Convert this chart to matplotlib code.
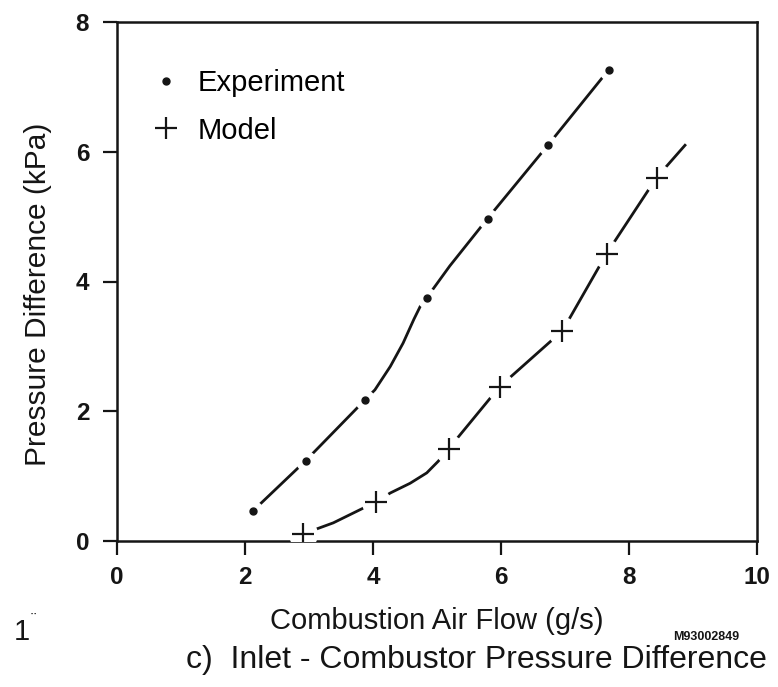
import matplotlib
matplotlib.use("Agg")
import matplotlib.pyplot as plt
from matplotlib.lines import Line2D

plt.rcParams['font.family'] = ['Liberation Sans', 'DejaVu Sans']

# measured points (g/s, kPa)
exp_x = [2.12, 2.95, 3.88, 4.84, 5.79, 6.74, 7.68]
exp_y = [0.46, 1.24, 2.18, 3.75, 4.97, 6.11, 7.26]
mod_x = [2.91, 4.04, 5.18, 5.98, 6.96, 7.65, 8.43]
mod_y = [0.11, 0.60, 1.42, 2.38, 3.24, 4.43, 5.60]

# hand drawn curves through the points, vertices
exp_curve_x = [2.12, 2.95, 3.88, 4.03, 4.27, 4.47, 4.64, 4.74, 4.84, 5.20, 5.79, 6.74, 7.68]
exp_curve_y = [0.46, 1.24, 2.18, 2.33, 2.69, 3.05, 3.42, 3.62, 3.75, 4.24, 4.97, 6.11, 7.26]
mod_curve_x = [2.91, 3.38, 4.04, 4.27, 4.58, 4.84, 5.02, 5.18, 5.98, 6.96, 7.65, 8.43, 8.875]
mod_curve_y = [0.11, 0.28, 0.60, 0.74, 0.89, 1.05, 1.23, 1.42, 2.38, 3.24, 4.43, 5.60, 6.10]

ink = '#151515'

fig = plt.figure(figsize=(7.78, 6.87), dpi=100)
ax = fig.add_axes([117 / 778, 1 - 541 / 687, 640 / 778, 519 / 687])

# curves, then white blobs to break the line round each marker, then markers
ax.plot(exp_curve_x, exp_curve_y, color=ink, lw=2.0, zorder=2)
ax.plot(mod_curve_x, mod_curve_y, color=ink, lw=2.0, zorder=2)
ax.plot(exp_x, exp_y, ls='none', marker='o', ms=15, mfc='white', mec='none', zorder=3)
ax.plot(mod_x, mod_y, ls='none', marker='o', ms=21, mfc='white', mec='none', zorder=3)
ax.plot(exp_x, exp_y, ls='none', marker='o', ms=5, color=ink, zorder=4)
ax.plot(mod_x, mod_y, ls='none', marker='+', ms=16, mew=1.6, color=ink, zorder=4)

ax.set_xlim(0, 10)
ax.set_ylim(0, 8)
ax.set_xticks([0, 2, 4, 6, 8, 10])
ax.set_yticks([0, 2, 4, 6, 8])
for s in ax.spines.values():
    s.set_linewidth(1.8)
    s.set_color(ink)
ax.tick_params(direction='out', length=10, width=1.6, color=ink, labelsize=17.5,
               labelcolor=ink)
ax.tick_params(axis='x', pad=8)
ax.tick_params(axis='y', pad=10)
for lab in ax.get_xticklabels() + ax.get_yticklabels():
    lab.set_fontweight('bold')

ax.set_xlabel('Combustion Air Flow (g/s)', fontsize=21, color=ink, labelpad=13)
ax.set_ylabel('Pressure Difference (kPa)', fontsize=21.5, color=ink)
ax.yaxis.set_label_coords(-0.102, 0.476)

handles = [Line2D([], [], ls='none', marker='o', ms=5, color=ink),
           Line2D([], [], ls='none', marker='+', ms=16, mew=1.6, color=ink)]
ax.legend(handles, ['Experiment', 'Model'], loc='upper left', bbox_to_anchor=(0.053, 0.91),
          frameon=False, fontsize=21, handlelength=1.0, handletextpad=0.6,
          labelspacing=0.68, borderpad=0, borderaxespad=0)

fig.text(476 / 778, 1 - 660 / 687, 'c)  Inlet - Combustor Pressure Difference',
         fontsize=23, color=ink, ha='center', va='center')
fig.text(706 / 778, 1 - 637 / 687, 'M93002849', fontsize=9, fontweight='bold',
         color=ink, ha='center', va='center')
fig.text(22 / 778, 1 - 632 / 687, '1', fontsize=21, color=ink, ha='center', va='center')
fig.text(33 / 778, 1 - 620 / 687, '¨', fontsize=12, color=ink, ha='center', va='center')

fig.savefig('out.png', dpi=100)
